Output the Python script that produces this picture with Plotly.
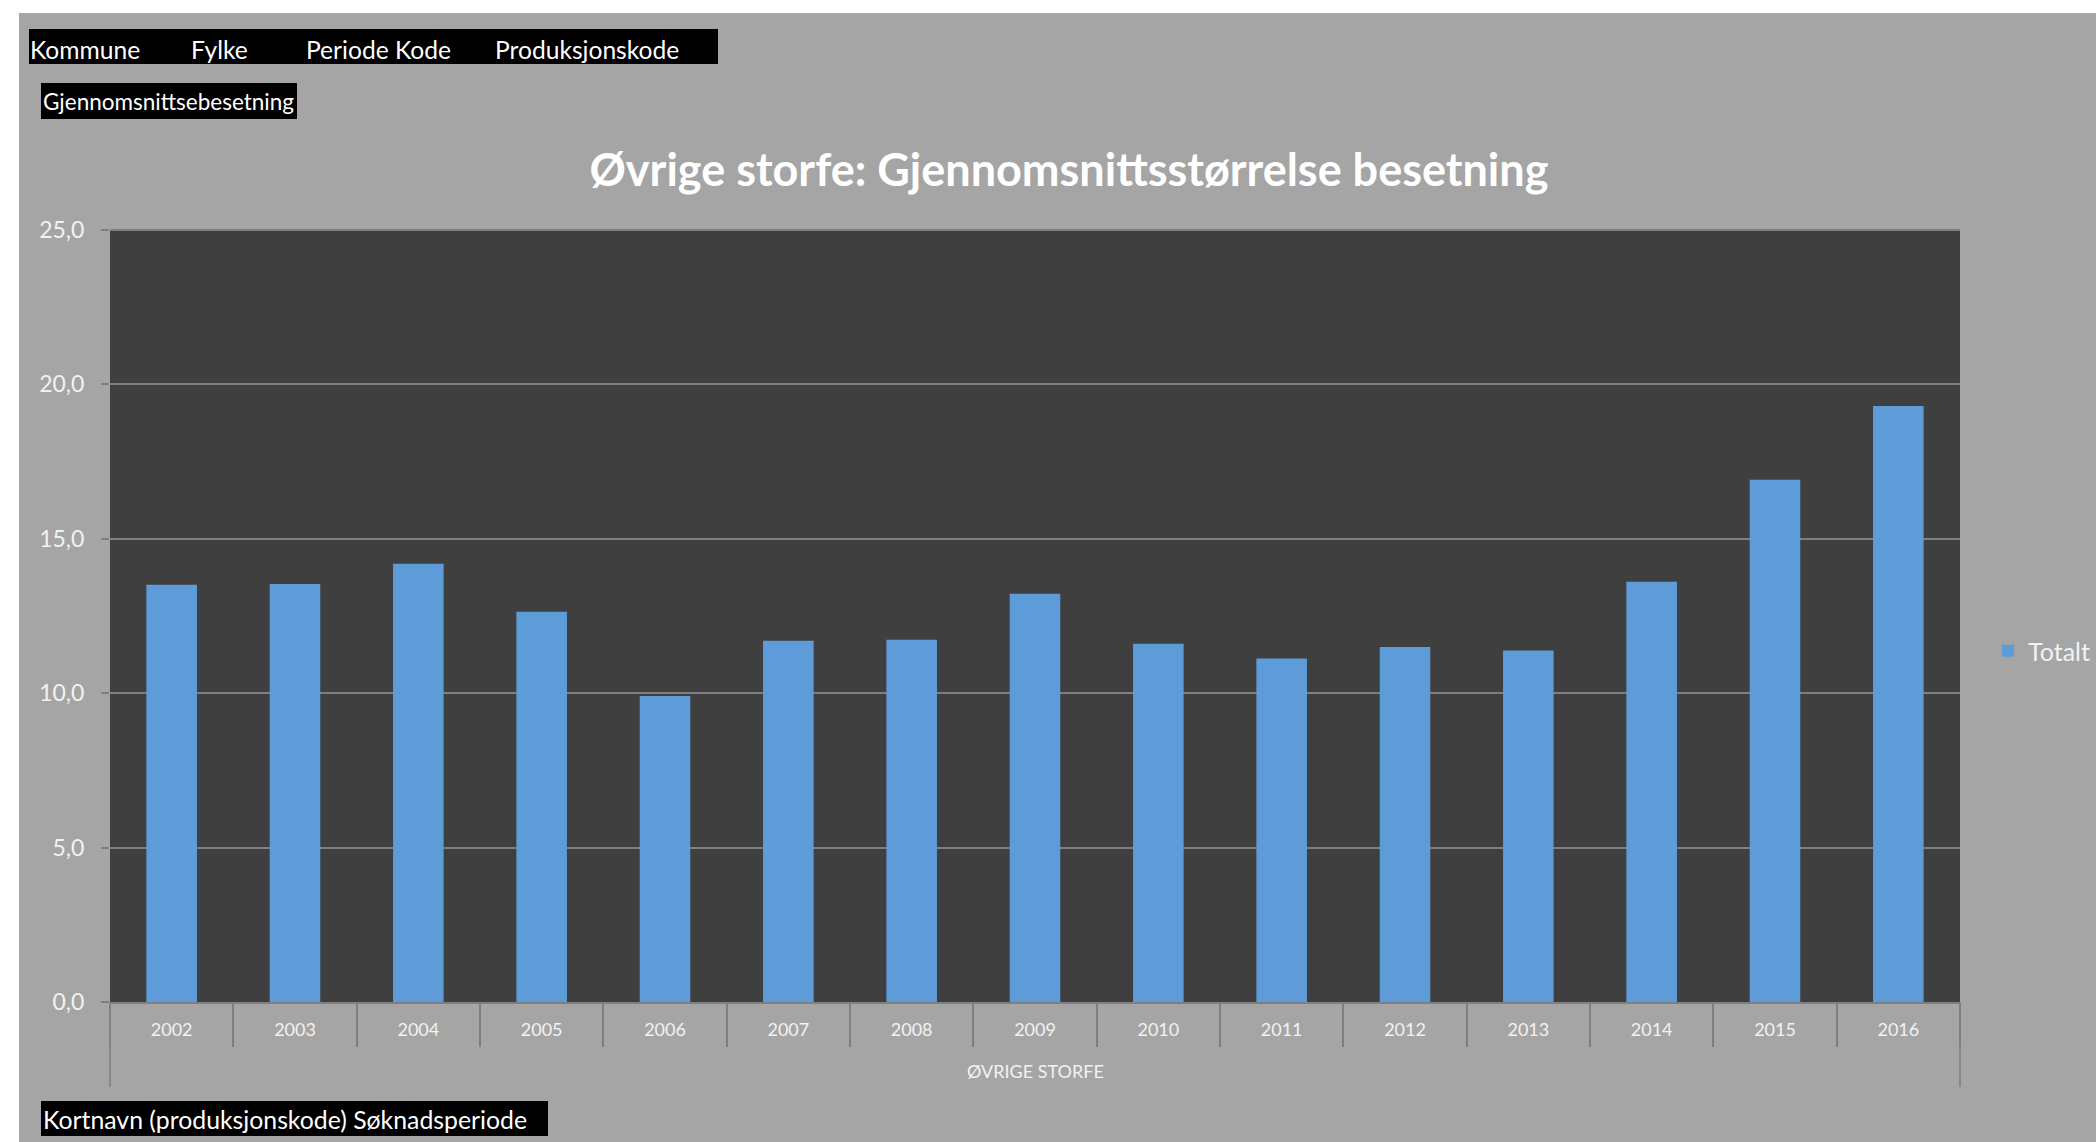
"""Øvrige storfe: average herd size per year, pivot-chart style."""

import plotly.graph_objects as go

YEARS = ["2002", "2003", "2004", "2005", "2006", "2007", "2008", "2009",
         "2010", "2011", "2012", "2013", "2014", "2015", "2016"]
TOTALT = [13.51, 13.54, 14.19, 12.64, 9.91, 11.70, 11.73, 13.22,
          11.60, 11.12, 11.50, 11.38, 13.61, 16.91, 19.30]
Y_TICKS = [0, 5, 10, 15, 20, 25]

TITLE = "Øvrige storfe: Gjennomsnittsstørrelse besetning"
FILTER_FIELDS = ["Kommune", "Fylke", "Periode Kode", "Produksjonskode"]
VALUE_FIELD = "Gjennomsnittsebesetning"
ROW_FIELDS = "Kortnavn (produksjonskode) Søknadsperiode"
CATEGORY_LABEL = "ØVRIGE STORFE"

BG_GREY = "#a5a5a5"
PLOT_GREY = "#3f3f3f"
GRID_GREY = "#7f7f7f"
BAR_BLUE = "#5d9cd8"
TEXT = "#f2f2f2"
FONT = "Lato"

W, H = 2096, 1142
# plot area in page pixels
L, R, T, B = 110, 1960, 230, 1002


def fx(px):
    return (px - L) / (R - L)


def fy(py):
    return (B - py) / (B - T)


fig = go.Figure(
    go.Bar(
        x=YEARS, y=TOTALT,
        name="Totalt",
        marker=dict(color=BAR_BLUE, line=dict(width=0)),
        hovertemplate="%{x}: %{y:.1f}<extra></extra>",
    )
)

shapes = [
    # thin white strips at the top and left edge of the sheet
    dict(type="rect", xref="paper", yref="paper",
         x0=fx(-5), x1=fx(W + 5), y0=fy(13), y1=fy(-5),
         fillcolor="white", line_width=0),
    dict(type="rect", xref="paper", yref="paper",
         x0=fx(-5), x1=fx(19), y0=fy(H + 5), y1=fy(-5),
         fillcolor="white", line_width=0),
    # top border gridline at 25
    dict(type="line", xref="paper", yref="paper", x0=0, x1=1, y0=1, y1=1,
         line=dict(color=GRID_GREY, width=2)),
    # long outer separators of the category axis
    dict(type="line", xref="paper", yref="paper", x0=0, x1=0, y0=0, y1=fy(1087),
         line=dict(color=GRID_GREY, width=1.5)),
    dict(type="line", xref="paper", yref="paper", x0=1, x1=1, y0=0, y1=fy(1087),
         line=dict(color=GRID_GREY, width=1.5)),
]

# black pivot field buttons
for x0, x1, y0, y1 in [(29, 718, 29, 64), (41, 297, 83, 119), (41, 548, 1101, 1136)]:
    shapes.append(dict(type="rect", xref="paper", yref="paper",
                       x0=fx(x0), x1=fx(x1), y0=fy(y1), y1=fy(y0),
                       fillcolor="black", line_width=0))

annotations = []
for label, px in zip(FILTER_FIELDS, [28, 189, 304, 493]):
    annotations.append(dict(text=label, x=fx(px), y=fy(49), xref="paper", yref="paper",
                            xanchor="left", yanchor="middle", showarrow=False,
                            font=dict(family=FONT, size=24.6, color="white")))
annotations.append(dict(text=VALUE_FIELD, x=fx(41), y=fy(101), xref="paper", yref="paper",
                        xanchor="left", yanchor="middle", showarrow=False,
                        font=dict(family=FONT, size=22.5, color="white")))
annotations.append(dict(text=ROW_FIELDS, x=fx(41), y=fy(1119), xref="paper", yref="paper",
                        xanchor="left", yanchor="middle", showarrow=False,
                        font=dict(family=FONT, size=24.8, color="white")))
annotations.append(dict(text=CATEGORY_LABEL, x=0.5, y=fy(1071), xref="paper", yref="paper",
                        xanchor="center", yanchor="middle", showarrow=False,
                        font=dict(family=FONT, size=18, color=TEXT)))

fig.update_layout(
    width=W, height=H,
    margin=dict(l=L, r=W - R, t=T, b=H - B, pad=0, autoexpand=False),
    paper_bgcolor=BG_GREY,
    plot_bgcolor=PLOT_GREY,
    separators=", ",
    font=dict(family=FONT, color=TEXT),
    title=dict(text=f"<b>{TITLE}</b>", x=1069 / W, xanchor="center",
               y=1 - 170 / H, yanchor="middle",
               font=dict(family=FONT, size=45, color="white")),
    bargap=0.59,
    showlegend=True,
    legend=dict(x=fx(1988), y=fy(651), xanchor="left", yanchor="middle",
                bgcolor="rgba(0,0,0,0)", font=dict(family=FONT, size=25, color=TEXT),
                itemwidth=30),
    shapes=shapes,
    annotations=annotations,
)

fig.update_xaxes(
    showgrid=False,
    showline=True, linecolor=GRID_GREY, linewidth=2,
    ticks="outside", tickson="boundaries", ticklen=43, tickcolor=GRID_GREY, tickwidth=1.5,
    ticklabelstandoff=10,
    tickfont=dict(family=FONT, size=18, color=TEXT),
)
fig.update_yaxes(
    range=[0, 25], tickvals=Y_TICKS, tickformat=".1f",
    showgrid=True, gridcolor=GRID_GREY, gridwidth=2,
    zeroline=False, showline=False,
    ticks="outside", ticklen=8, tickcolor=GRID_GREY, tickwidth=2,
    ticklabelstandoff=12,
    tickfont=dict(family=FONT, size=23, color=TEXT),
)

# drop the browser's default body margin so the sheet fills the window
fig.write_html(
    "out.html",
    config={"displayModeBar": False},
    post_script="document.body.style.margin = '0';",
)
